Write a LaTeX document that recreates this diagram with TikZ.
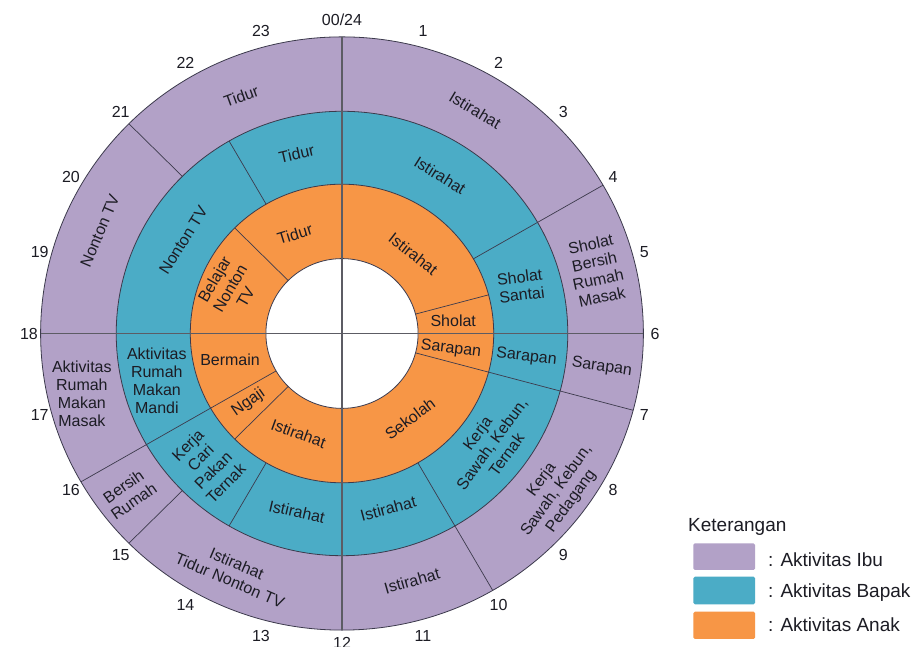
\documentclass[tikz,border=0pt]{standalone}
\usepackage{fontspec}
\setmainfont{Liberation Sans}
\definecolor{ibu}{HTML}{B2A1C7}
\definecolor{bapak}{HTML}{4BACC6}
\definecolor{anak}{HTML}{F79646}
\definecolor{edgecol}{HTML}{3C3A4C}
\definecolor{crosscol}{HTML}{5C5C64}
\definecolor{txt}{HTML}{1C1C24}
\begin{document}
\begin{tikzpicture}[x=1pt,y=1pt,
  lbl/.style={inner sep=0pt, align=center, text=txt, font=\fontsize{16}{18}\selectfont},
  hr/.style={inner sep=0pt, text=txt, font=\fontsize{16}{18}\selectfont},
  ringedge/.style={draw=edgecol, line width=0.8pt},
  divider/.style={draw=edgecol, line width=0.7pt},
  crossline/.style={draw=crosscol, line width=1.3pt},
  legtxt/.style={inner sep=0pt, anchor=west, text=txt, font=\fontsize{19}{22}\selectfont},
  swatch/.style={rounded corners=1.5pt}
]
\useasboundingbox (0,0) rectangle (911,647);
\fill[white] (0,0) rectangle (911,647);
\begin{scope}[shift={(342,313.5)}]
 \begin{scope}[xscale=1.008,yscale=0.992]
  \filldraw[fill=ibu, ringedge] (0,0) circle (299);
  \filldraw[fill=bapak, ringedge] (0,0) circle (224);
  \filldraw[fill=anak, ringedge] (0,0) circle (150.5);
  \filldraw[fill=white, ringedge] (0,0) circle (75.5);
  \foreach \h in {4,7,10,15,16,21} \draw[divider] ({90-15*\h}:224) -- ({90-15*\h}:299);
  \foreach \h in {4,7,10,14,16,22} \draw[divider] ({90-15*\h}:150.5) -- ({90-15*\h}:224);
  \foreach \h in {5,7,15,16,21} \draw[divider] ({90-15*\h}:75.5) -- ({90-15*\h}:150.5);
  \coordinate (top) at (90:299);
  \coordinate (bot) at (-90:299);
  \coordinate (lft) at (180:299);
  \coordinate (rgt) at (0:299);
  \draw[crossline] (top) -- (bot);
  \draw[crossline] (lft) -- (rgt);
 \end{scope}
 % hour labels
 \node[hr] (h0) at (90:314) {00/24};
 \foreach \h in {1,...,11,13,14,15,16,17,18,19,20,21,22,23} \node[hr] (h\h) at ({90-15*\h}:313) {\h};
 \node[hr] (h12) at (-90:309) {12};
 % outer ring (Ibu)
 \node[lbl, rotate=20]  (o1) at (113:258) {Tidur};
 \node[lbl, rotate=67]  (o2) at (157:263) {Nonton TV};
 \node[lbl, rotate=-31] (o3) at (59.2:260) {Istirahat};
 \node[lbl, rotate=12]  (o4) at (13.9:262) {Sholat\\Bersih\\Rumah\\Masak};
 \node[lbl, rotate=-8]  (o5) at (-7.4:262) {Sarapan};
 \node[lbl, rotate=54]  (o6) at (-36.2:266) {Kerja\\Sawah, Kebun,\\Pedagang};
 \node[lbl, rotate=16]  (o7) at (-74.2:257) {Istirahat};
 \node[lbl, rotate=-23] (o8) at (-114.5:262) {Istirahat\\Tidur Nonton TV};
 \node[lbl, rotate=35]  (o9) at (-143.1:267) {Bersih\\Rumah};
 \node[lbl]             (o10) at (-167:267) {Aktivitas\\Rumah\\Makan\\Masak};
 % middle ring (Bapak)
 \node[lbl, rotate=13]  (m1) at (104.2:185) {Tidur};
 \node[lbl, rotate=58]  (m2) at (149.6:184) {Nonton TV};
 \node[lbl, rotate=-32] (m3) at (58.2:186) {Istirahat};
 \node[lbl, rotate=7]   (m4) at (14.9:185) {Sholat\\Santai};
 \node[lbl, rotate=-6]  (m5) at (-7.3:186) {Sarapan};
 \node[lbl, rotate=54]  (m6) at (-36.4:186) {Kerja\\Sawah, Kebun,\\Ternak};
 \node[lbl, rotate=15]  (m7) at (-75.2:181) {Istirahat};
 \node[lbl, rotate=-13] (m8) at (-104.2:184) {Istirahat};
 \node[lbl, rotate=45]  (m9) at (-136:188) {Kerja\\Cari\\Pakan\\Ternak};
 \node[lbl]             (m10) at (-165.8:191) {Aktivitas\\Rumah\\Makan\\Mandi};
 % inner ring (Anak)
 \node[lbl, rotate=17]  (i1) at (115.4:110) {Tidur};
 \node[lbl, rotate=60]  (i2) at (158:121) {Belajar\\Nonton\\TV};
 \node[lbl, rotate=-38] (i3) at (48.2:107) {Istirahat};
 \node[lbl]             (i4) at (6.7:112) {Sholat};
 \node[lbl, rotate=-7]  (i5) at (-8:110) {Sarapan};
 \node[lbl, rotate=37]  (i6) at (-51.4:109) {Sekolah};
 \node[lbl, rotate=-20] (i7) at (-113.5:109) {Istirahat};
 \node[lbl, rotate=35]  (i8) at (-143.7:116) {Ngaji};
 \node[lbl]             (i9) at (-166.8:115) {Bermain};
\end{scope}
% legend
\node[legtxt] (ket) at (688,120.3) {Keterangan};
\fill[ibu, swatch]   (693.3,77) rectangle (755,103.7);
\fill[bapak, swatch] (693.3,42.7) rectangle (755,70.3);
\fill[anak, swatch]  (693.3,8) rectangle (755,35.3);
\node[legtxt] (l1) at (768,87) {: Aktivitas Ibu};
\node[legtxt] (l2) at (768,54.7) {: Aktivitas Bapak};
\node[legtxt] (l3) at (768,22) {: Aktivitas Anak};
\end{tikzpicture}
\end{document}
